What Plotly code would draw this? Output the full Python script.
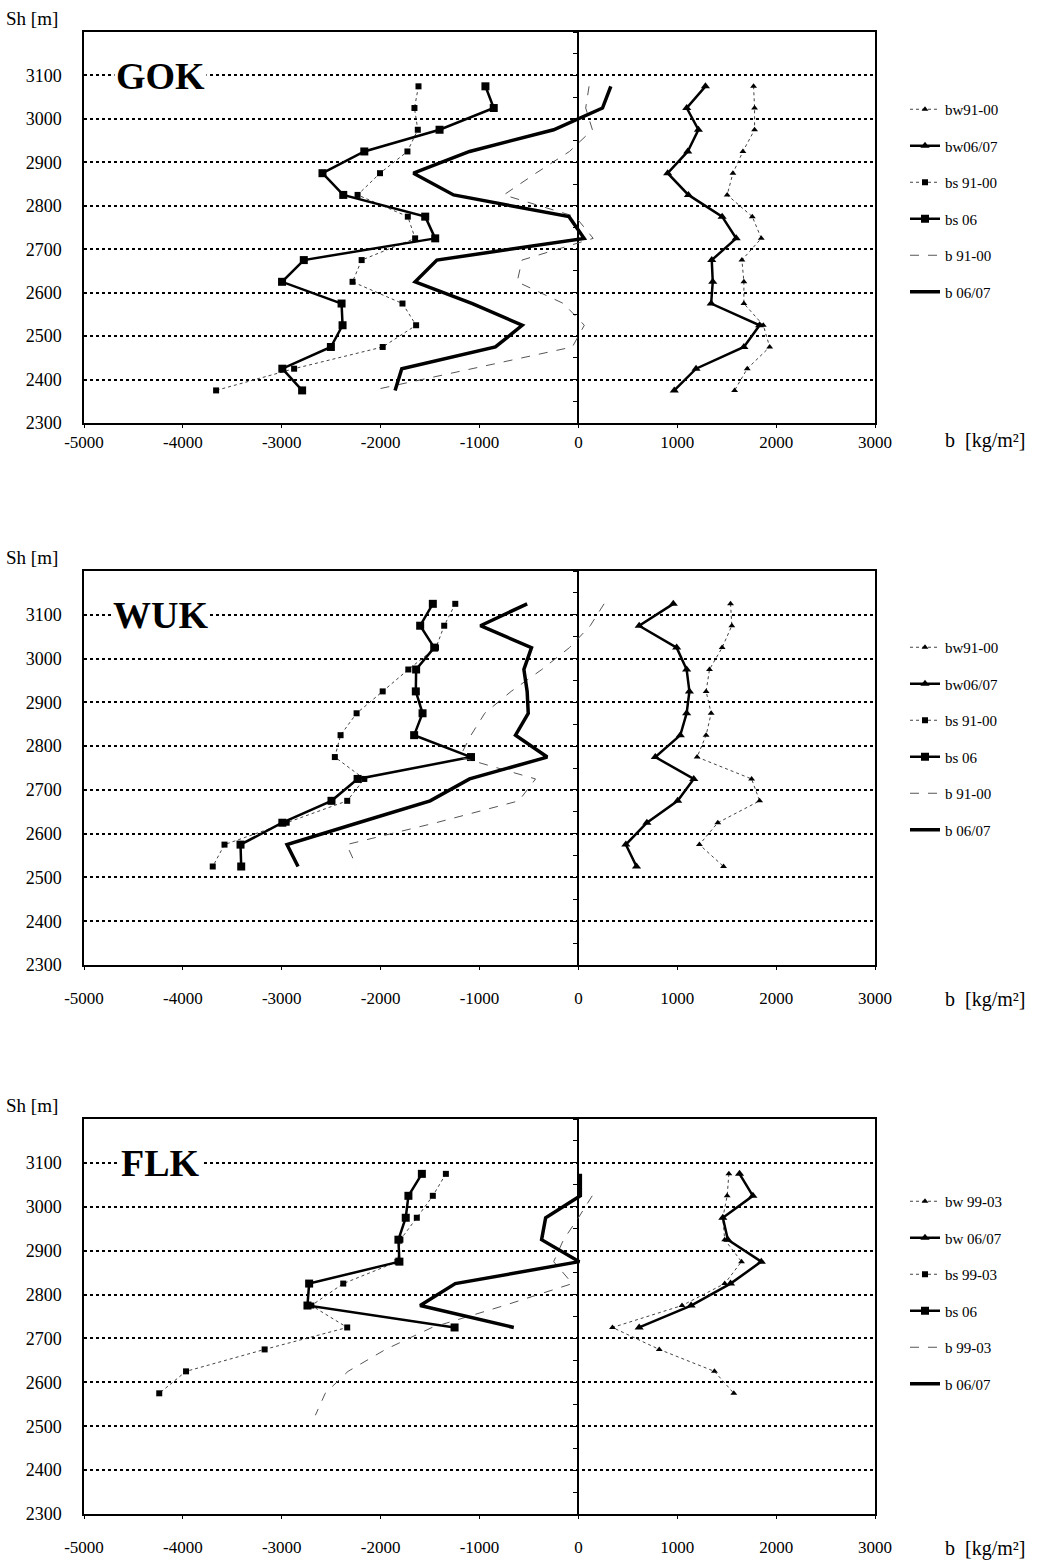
import plotly.graph_objects as go

# ---------------- DATA ----------------
# GOK (heights in m, balances in kg/m2)
gok_h = [3075, 3025, 2975, 2925, 2875, 2825, 2775, 2725, 2675, 2625, 2575, 2525, 2475, 2425, 2375]
gok_bw91_00 = [1772, 1782, 1782, 1664, 1563, 1505, 1759, 1850, 1654, 1674, 1674, 1870, 1935, 1708, 1580]
gok_bw06_07 = [1285, 1096, 1214, 1106, 903, 1113, 1454, 1596, 1349, 1359, 1343, 1833, 1674, 1190, 970]
gok_bs91_00 = [-1617, -1658, -1624, -1729, -2006, -2233, -1725, -1651, -2192, -2284, -1779, -1641, -1979, -2875, -3664]
gok_bs06 = [-940, -856, -1404, -2165, -2588, -2378, -1549, -1448, -2777, -2997, -2395, -2385, -2503, -2994, -2794]
gok_b91_00 = [108, 74, 142, -90, -430, -754, -30, 150, -570, -619, -150, 60, -61, -1070, -2090]
gok_b06_07 = [328, 244, -250, -1100, -1668, -1262, -95, 58, -1431, -1651, -1072, -568, -839, -1786, -1854]

# WUK
wuk_h = [3125, 3075, 3025, 2975, 2925, 2875, 2825, 2775, 2725, 2675, 2625, 2575, 2525]
wuk_bw91_00 = [1539, 1552, 1454, 1326, 1292, 1343, 1292, 1201, 1752, 1833, 1410, 1224, 1468]
wuk_bw06_07 = [960, 615, 994, 1095, 1123, 1095, 1031, 778, 1167, 1004, 693, 480, 588]
wuk_bs91_00 = [-1245, -1357, -1440, -1720, -1979, -2243, -2405, -2463, -2165, -2338, -2950, -3579, -3698]
wuk_bs06 = [-1472, -1600, -1458, -1641, -1644, -1576, -1661, -1086, -2233, -2497, -2994, -3417, -3410]
wuk_b91_00 = [260, 120, -90, -370, -680, -947, -1086, -1200, -433, -602, -1440, -2344, -2243]
wuk_b06_07 = [-518, -991, -474, -551, -518, -507, -636, -315, -1100, -1499, -2226, -2947, -2835]

# FLK
flk_h06 = [3075, 3025, 2975, 2925, 2875, 2825, 2775, 2725]
flk_h99 = [3075, 3025, 2975, 2925, 2875, 2825, 2775, 2725, 2675, 2625, 2575]
flk_hb99 = [3025, 2975, 2925, 2875, 2825, 2775, 2725, 2675, 2625, 2575, 2525]
flk_bw99_03 = [1522, 1505, 1461, 1480, 1650, 1480, 1048, 345, 818, 1376, 1572]
flk_bw06_07 = [1630, 1765, 1461, 1512, 1850, 1539, 1140, 615]
flk_bs99_03 = [-1340, -1472, -1634, -1800, -1830, -2378, -2700, -2338, -3173, -3968, -4239]
flk_bs06 = [-1583, -1719, -1746, -1820, -1810, -2723, -2740, -1252]
flk_b99_03 = [140, 0, -150, -250, -61, -750, -1480, -1950, -2330, -2560, -2660]
flk_b06_07 = [20, 20, -331, -372, 10, -1245, -1600, -653]

panel_names = ["GOK", "WUK", "FLK"]
legend_names = [
    ["bw91-00", "bw06/07", "bs 91-00", "bs 06", "b 91-00", "b 06/07"],
    ["bw91-00", "bw06/07", "bs 91-00", "bs 06", "b 91-00", "b 06/07"],
    ["bw 99-03", "bw 06/07", "bs 99-03", "bs 06", "b 99-03", "b 06/07"],
]
x_ticks = [-5000, -4000, -3000, -2000, -1000, 0, 1000, 2000, 3000]
y_ticks = [2300, 2400, 2500, 2600, 2700, 2800, 2900, 3000, 3100]

panels = [
    [(gok_h, gok_bw91_00), (gok_h, gok_bw06_07), (gok_h, gok_bs91_00), (gok_h, gok_bs06), (gok_h, gok_b91_00), (gok_h, gok_b06_07)],
    [(wuk_h, wuk_bw91_00), (wuk_h, wuk_bw06_07), (wuk_h, wuk_bs91_00), (wuk_h, wuk_bs06), (wuk_h, wuk_b91_00), (wuk_h, wuk_b06_07)],
    [(flk_h99, flk_bw99_03), (flk_h06, flk_bw06_07), (flk_h99, flk_bs99_03), (flk_h06, flk_bs06), (flk_hb99, flk_b99_03), (flk_h06, flk_b06_07)],
]

# ---------------- STYLE ----------------
W, H = 1048, 1562
FONT = "Liberation Serif"
px_left, px_right = 84, 875
panel_px = [(32, 423), (571, 965), (1119, 1514)]   # top, bottom in pixels
legend_top_px = [93, 631, 1185]
xlabel_standoff = [0, 14, 14]
styles = [
    dict(line=dict(color="#444", width=1, dash="dot"), marker=dict(symbol="triangle-up", size=6, color="black"), mode="lines+markers"),
    dict(line=dict(color="black", width=2.5), marker=dict(symbol="triangle-up", size=8, color="black"), mode="lines+markers"),
    dict(line=dict(color="#444", width=1, dash="dot"), marker=dict(symbol="square", size=6, color="black"), mode="lines+markers"),
    dict(line=dict(color="black", width=2.5), marker=dict(symbol="square", size=8, color="black"), mode="lines+markers"),
    dict(line=dict(color="#555", width=1, dash="dash"), mode="lines"),
    dict(line=dict(color="black", width=3.5), mode="lines"),
]

fig = go.Figure()
xd = [px_left / W, px_right / W]
zero_pos = xd[0] + (0 - x_ticks[0]) / (x_ticks[-1] - x_ticks[0]) * (xd[1] - xd[0])

for p in range(3):
    ax = "" if p == 0 else str(p + 1)
    leg = "legend" if p == 0 else f"legend{p + 1}"
    for i, (hh, vals) in enumerate(panels[p]):
        st = styles[i]
        fig.add_trace(go.Scatter(
            x=vals, y=hh, name=legend_names[p][i], mode=st["mode"],
            line=st["line"], marker=st.get("marker"),
            xaxis="x" + ax, yaxis="y" + ax, legend=leg,
            legendgroup=f"g{p}_{i}",
        ))
    # dummy trace for the zero-line tick axis
    fig.add_trace(go.Scatter(x=[None], y=[None], xaxis="x" + ax, yaxis=f"y{p + 4}",
                             showlegend=False, hoverinfo="skip"))

    top, bot = panel_px[p]
    yd = [1 - bot / H, 1 - top / H]
    fig.layout["xaxis" + ax] = dict(
        domain=xd, range=[x_ticks[0], x_ticks[-1]], anchor="y" + ax, automargin=False,
        tickvals=x_ticks, ticktext=[str(v) for v in x_ticks],
        showgrid=False, zeroline=True, zerolinecolor="black", zerolinewidth=1.5,
        showline=True, linecolor="black", linewidth=1.5, mirror=True,
        ticks="outside", ticklen=3, tickcolor="black",
        ticklabelstandoff=xlabel_standoff[p],
        tickfont=dict(family=FONT, size=17, color="black"),
    )
    fig.layout["yaxis" + ax] = dict(
        domain=yd, range=[2300, 3200], anchor="x" + ax, automargin=False,
        tickvals=y_ticks, ticktext=[str(v) for v in y_ticks],
        showgrid=True, gridcolor="black", gridwidth=1.5, griddash="dot",
        zeroline=False, showline=True, linecolor="black", linewidth=1.5, mirror=True,
        ticks="", ticklabelstandoff=17,
        tickfont=dict(family=FONT, size=18, color="black"),
    )
    fig.layout[f"yaxis{p + 4}"] = dict(
        overlaying="y" + ax, anchor="free", position=zero_pos, side="left", automargin=False,
        range=[2300, 3200], dtick=50, tick0=2300, showticklabels=False,
        ticks="outside", ticklen=5, tickcolor="black",
        showgrid=False, zeroline=False, showline=False,
    )
    fig.layout[leg] = dict(
        x=905 / W, xanchor="left", y=1 - legend_top_px[p] / H, yanchor="top",
        bgcolor="rgba(0,0,0,0)", borderwidth=0,
        font=dict(family=FONT, size=15, color="black"),
        traceorder="grouped", tracegroupgap=14, itemwidth=30,
    )
    # panel title
    fig.add_annotation(text=f"<b>{panel_names[p]}</b>", xref="paper", yref="paper",
                       x=160 / W, y=1 - (top + 44) / H, showarrow=False,
                       font=dict(family=FONT, size=38, color="black"),
                       bgcolor="white", xanchor="center", yanchor="middle")
    # axis labels
    fig.add_annotation(text="Sh [m]", xref="paper", yref="paper",
                       x=4 / W, y=1 - (top - 14) / H, showarrow=False,
                       font=dict(family=FONT, size=19, color="black"),
                       xanchor="left", yanchor="middle")
    lab_y = bot + 17 if p == 0 else bot + 34
    fig.add_annotation(text="b  [kg/m²]", xref="paper", yref="paper",
                       x=943 / W, y=1 - lab_y / H, showarrow=False,
                       font=dict(family=FONT, size=20, color="black"),
                       xanchor="left", yanchor="middle")

fig.update_layout(
    width=W, height=H, margin=dict(l=0, r=0, t=0, b=0, autoexpand=False),
    paper_bgcolor="white", plot_bgcolor="white", showlegend=True,
)
fig.write_html("out.html", config={"displayModeBar": False},
               post_script="document.body.style.margin='0px';document.body.style.overflow='hidden';")
